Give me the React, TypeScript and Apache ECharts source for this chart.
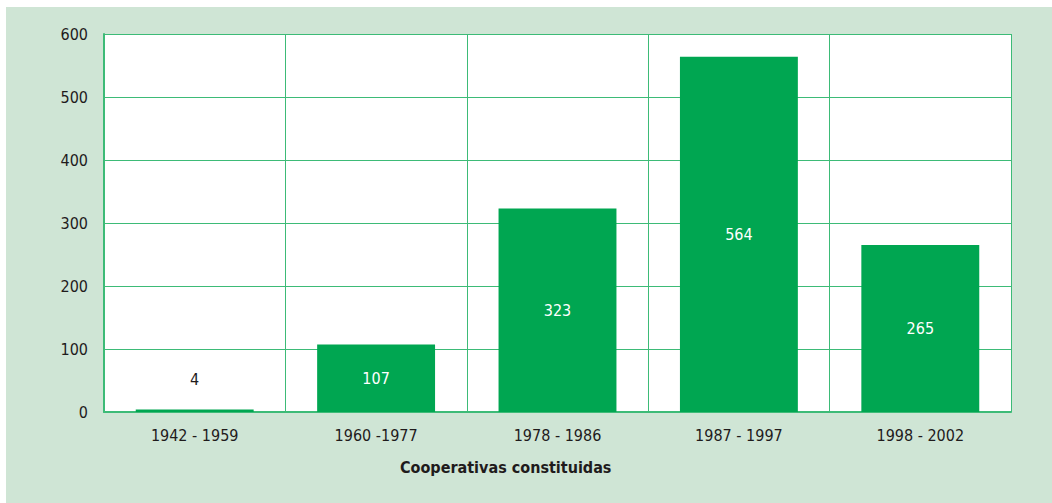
import React, { useEffect, useRef } from "react";
import * as echarts from "echarts";

const categories = ["1942 - 1959", "1960 -1977", "1978 - 1986", "1987 - 1997", "1998 - 2002"];
const values = [4, 107, 323, 564, 265];
const yTicks = [0, 100, 200, 300, 400, 500, 600];
const axisTitle = "Cooperativas constituidas";

const FONT = "'DejaVu Sans Condensed', 'DejaVu Sans', sans-serif";
const GREEN = "#00a651";
const GRID = "#3dbb77";
const INK = "#1f1b1c";

export default function App() {
  const ref = useRef<HTMLDivElement>(null);
  useEffect(() => {
    const chart = echarts.init(ref.current!, null, { renderer: "svg" });
    chart.setOption({
      animation: false,
      backgroundColor: "#cfe5d5",
      grid: { left: 98, right: 41, top: 27, bottom: 91, containLabel: false, show: true, backgroundColor: "#ffffff", borderWidth: 0 },
      xAxis: {
        type: "category",
        data: categories,
        boundaryGap: true,
        axisLine: { show: true, lineStyle: { color: GRID, width: 2 } },
        axisTick: { show: false },
        splitLine: { show: true, lineStyle: { color: GRID, width: 1 } },
        axisLabel: { color: INK, fontFamily: FONT, fontSize: 16, margin: 15 },
      },
      yAxis: {
        type: "value",
        min: yTicks[0],
        max: yTicks[yTicks.length - 1],
        interval: 100,
        axisLine: { show: true, lineStyle: { color: GRID, width: 2 } },
        axisTick: { show: false },
        splitLine: { show: true, lineStyle: { color: GRID, width: 1 } },
        axisLabel: { color: INK, fontFamily: FONT, fontSize: 16, margin: 16 },
      },
      graphic: [
        {
          type: "text",
          left: 506 - 6 - 106,
          top: 459 - 7,
          style: { text: axisTitle, font: `bold 16px ${FONT}`, fill: INK },
        },
      ],
      series: [
        {
          type: "bar",
          data: values.map((v, i) => ({
            value: v,
            label:
              i === 0
                ? { show: true, position: "top", distance: 22, color: INK }
                : { show: true, position: "inside", color: "#ffffff" },
          })),
          barWidth: "65%",
          itemStyle: { color: GREEN },
          label: { fontFamily: FONT, fontSize: 16 },
        },
      ],
    });
    return () => chart.dispose();
  }, []);
  return (
    <div
      ref={ref}
      style={{ position: "fixed", left: 6, top: 7, width: 1046, height: 496 }}
    />
  );
}
